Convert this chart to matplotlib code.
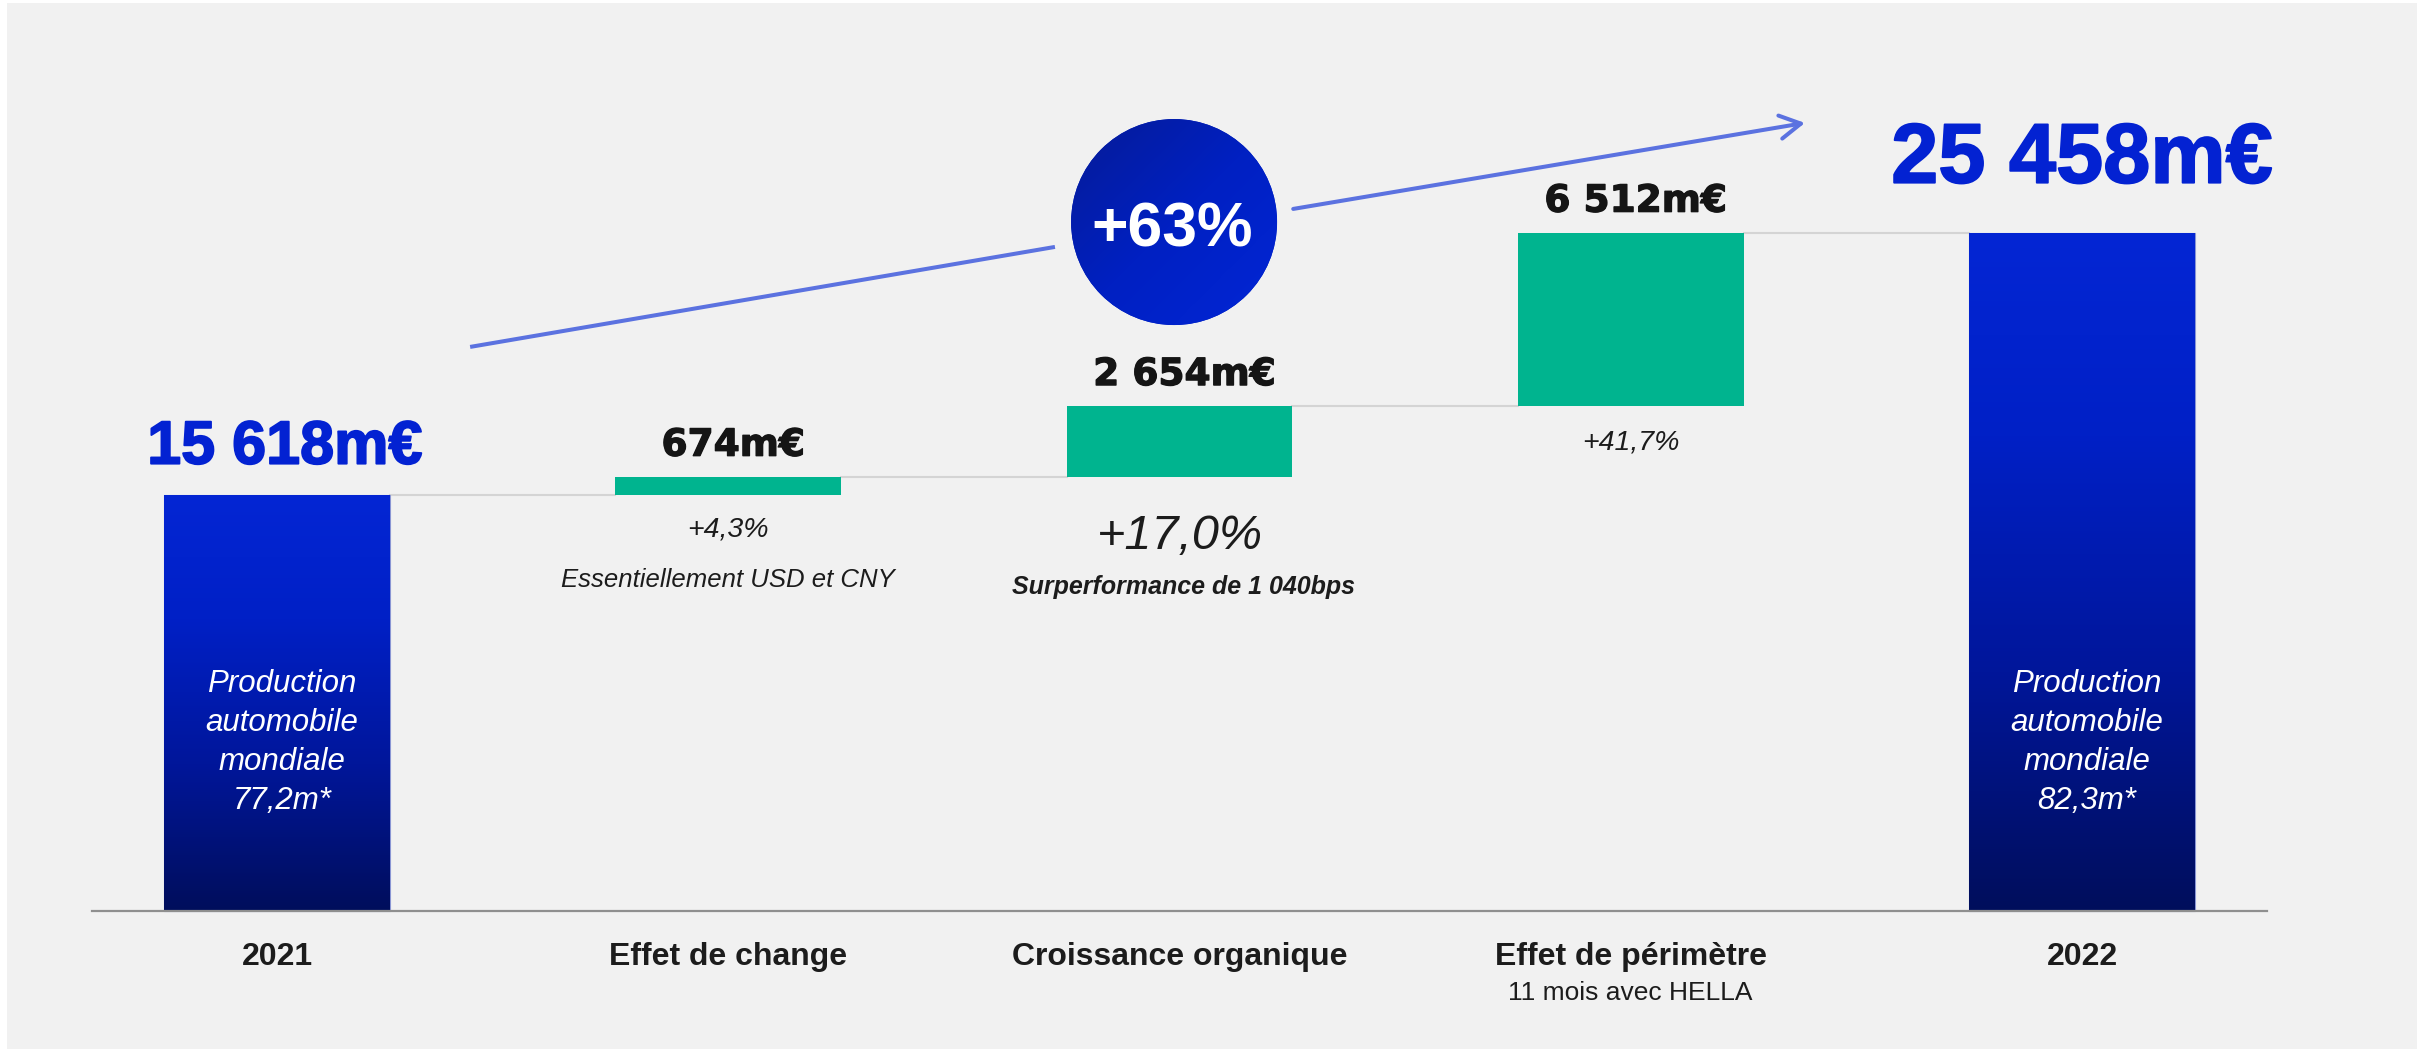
import matplotlib
matplotlib.use("Agg")
import matplotlib.pyplot as plt
import numpy as np
from matplotlib.patches import Rectangle, Ellipse
from matplotlib.colors import LinearSegmentedColormap
import matplotlib.patheffects as pe

# ---------------- data ----------------
categories = ["2021", "Effet de change", "Croissance organique", "Effet de périmètre", "2022"]
sub_labels = ["", "", "", "11 mois avec HELLA", ""]
start_value = 15618
deltas = [674, 2654, 6512]
end_value = 25458
total_labels = ["15 618m€", "25 458m€"]
delta_labels = ["674m€", "2 654m€", "6 512m€"]
pct_labels = ["+4,3%", "+17,0%", "+41,7%"]
notes = ["Essentiellement USD et CNY", "Surperformance de 1 040bps", ""]
inner_labels = ["Production\nautomobile\nmondiale\n77,2m*",
                "Production\nautomobile\nmondiale\n82,3m*"]
growth_label = "+63%"

# ---------------- figure ----------------
W, H, DPI = 2417, 1049, 100
fig = plt.figure(figsize=(W / DPI, H / DPI), dpi=DPI, facecolor="white")
fig.patches.append(Rectangle((7 / W, 0), 1 - 7 / W, (H - 3) / H, transform=fig.transFigure,
                             facecolor="#f1f1f1", edgecolor="none", zorder=-10))
ax = fig.add_axes([0, 0, 1, 1])
ax.set_facecolor("none")
ax.axis("off")

FONT = "Liberation Sans"
BLUE = "#0322d2"
GREEN = "#00b48f"
TXT = "#1c1c1c"

x = np.arange(len(categories))
cum = np.cumsum([start_value] + deltas)
delta_bottoms = cum[:-1]
bw = 0.5

# totals bars with gradient
blue_cmap = LinearSegmentedColormap.from_list(
    "bl", [(0, "#0426d4"), (0.3, "#0020c6"), (0.65, "#00169a"), (1.0, "#000e5c")])
tot_bars = ax.bar([x[0], x[-1]], [start_value, end_value], width=bw, color="#0020c0",
                  edgecolor="#8a96d4", linewidth=0.8, zorder=2)
grad = np.linspace(0, 1, 256).reshape(-1, 1)
for b in tot_bars:
    im = ax.imshow(grad, extent=[b.get_x(), b.get_x() + b.get_width(), 0, b.get_height()],
                   aspect="auto", cmap=blue_cmap, origin="upper", zorder=2.1)
    im.set_clip_path(b)

# delta bars
ax.bar(x[1:4], deltas, bottom=delta_bottoms, width=bw, color=GREEN, edgecolor="none", zorder=2)

# connectors
levels = list(cum)
for i, lv in enumerate(levels):
    ax.plot([x[i] + bw / 2, x[i + 1] - bw / 2], [lv, lv], color="#d4d4d4", lw=1.5, zorder=1)

# baseline
ax.plot([x[0] - 0.41, x[-1] + 0.41], [0, 0], color="#8f8f8f", lw=1.6, zorder=5)

def lab(xv, yv, s, dx, dy, va="baseline", **kw):
    ax.annotate(s, (xv, yv), xytext=(dx, dy), textcoords="offset pixels",
                ha="center", va=va, zorder=10, **kw)

# total labels
big = [pe.withStroke(linewidth=1.3, foreground=BLUE)]
lab(x[0], start_value, total_labels[0], 8, 31, fontsize=44, fontweight="bold",
    color=BLUE, family=FONT, path_effects=big)
lab(x[-1], end_value, total_labels[1], 0, 50, fontsize=61, fontweight="bold",
    color=BLUE, family=FONT, path_effects=big)

# delta labels
dark = [pe.withStroke(linewidth=0.9, foreground="#151515")]
for i, d in enumerate(deltas):
    top = delta_bottoms[i] + d
    lab(x[i + 1], top, delta_labels[i], 5, 21, fontsize=27, fontweight="bold",
        color="#151515", family="DejaVu Sans", path_effects=dark)

# pct labels & notes below
pct_off = [-42, -72, -43]
pct_size = [20.5, 35, 20.5]
for i in range(3):
    lab(x[i + 1], delta_bottoms[i], pct_labels[i], 0, pct_off[i], fontsize=pct_size[i],
        style="italic", color=TXT, family=FONT)
lab(x[1], delta_bottoms[0], notes[0], 0, -92, fontsize=18.5, style="italic", color=TXT, family=FONT)
lab(x[2], delta_bottoms[1], notes[1], 4, -117, fontsize=18, style="italic", fontweight="bold",
    color=TXT, family=FONT)

# category labels
for i, c in enumerate(categories):
    lab(x[i], 0, c, 0, -54.5, fontsize=23, fontweight="bold", color=TXT, family=FONT)
    if sub_labels[i]:
        lab(x[i], 0, sub_labels[i], 0, -89.5, fontsize=19, color=TXT, family=FONT)

# inner labels
for xi, s in zip([x[0], x[-1]], inner_labels):
    lab(xi, 0, s, 5, 168, va="center", fontsize=22.5, style="italic", color="white",
        family=FONT, linespacing=1.38)

# ---------------- growth arrow & badge ----------------
px_x, x0px, base_px, upp = 451.25, 277.0, 138.5, 37.56
ax.set_xlim(-x0px / px_x, (W - x0px) / px_x)
ax.set_ylim(-base_px * upp, (H - base_px) * upp)

ARROW = "#5b72e0"
ax.plot([0.428, 1.724], [21168, 24924], color=ARROW, lw=2.9, solid_capstyle="butt", zorder=3)
ax.annotate("", xy=(3.386, 29581), xytext=(2.252, 26351),
            arrowprops=dict(arrowstyle="->,head_length=0.75,head_width=0.42", color=ARROW,
                            lw=2.9, shrinkA=0, shrinkB=0, mutation_scale=20,
                            capstyle="round"), zorder=3)

cx, cy = 1.988, 25858
ell = Ellipse((cx, cy), width=206 / px_x, height=206 * upp, facecolor="#0020c0",
              edgecolor="none", zorder=4)
ax.add_patch(ell)
gx, gy = np.meshgrid(np.linspace(0, 1, 200), np.linspace(0, 1, 200))
dg = (gx + gy) / 2
circ_cmap = LinearSegmentedColormap.from_list("cc", ["#061b96", "#0020c2", "#0226d6"])
im = ax.imshow(dg, extent=[cx - 103 / px_x, cx + 103 / px_x, cy - 103 * upp, cy + 103 * upp],
               aspect="auto", cmap=circ_cmap, origin="upper", zorder=4.1)
im.set_clip_path(ell)
ax.text(cx - 0.005, cy - 24 * upp, growth_label, ha="center", va="baseline", fontsize=45,
        fontweight="bold", color="white", family=FONT, zorder=6)

ax.set_xlim(-x0px / px_x, (W - x0px) / px_x)
ax.set_ylim(-base_px * upp, (H - base_px) * upp)

fig.savefig("out.png", dpi=DPI, facecolor=fig.get_facecolor())
